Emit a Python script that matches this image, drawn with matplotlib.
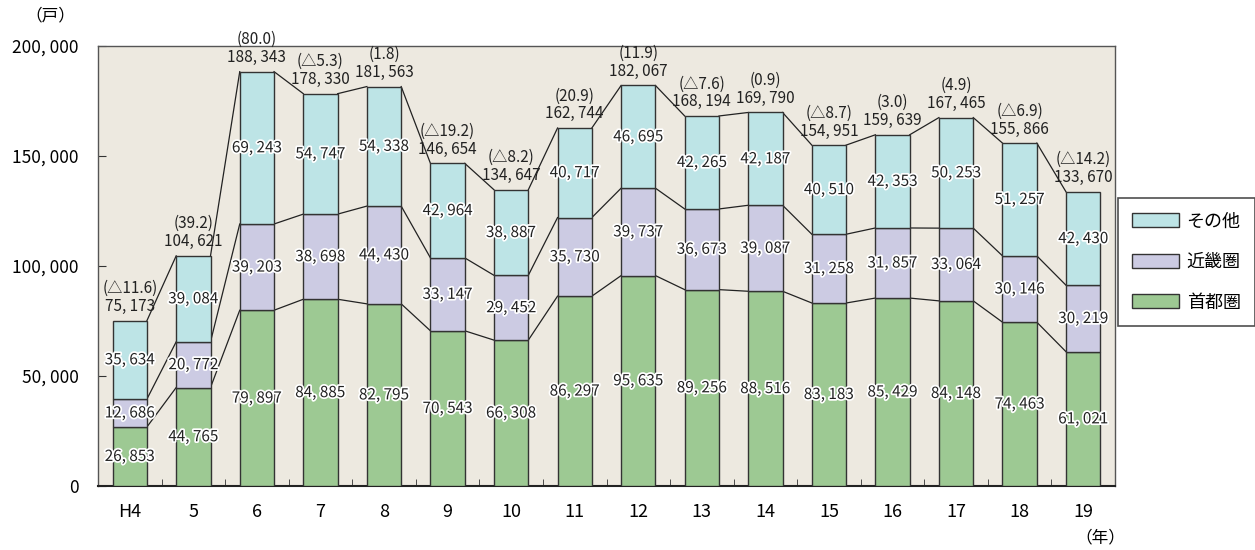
import matplotlib
matplotlib.use("Agg")
import matplotlib.pyplot as plt
import matplotlib.patheffects as pe
from matplotlib.patches import Patch
import numpy as np

plt.rcParams['font.family'] = ['Noto Sans CJK JP', 'DejaVu Sans']

years = ["H4", "5", "6", "7", "8", "9", "10", "11", "12", "13", "14", "15", "16", "17", "18", "19"]
shutoken = [26853, 44765, 79897, 84885, 82795, 70543, 66308, 86297, 95635, 89256, 88516, 83183, 85429, 84148, 74463, 61021]
kinki = [12686, 20772, 39203, 38698, 44430, 33147, 29452, 35730, 39737, 36673, 39087, 31258, 31857, 33064, 30146, 30219]
sonota = [35634, 39084, 69243, 54747, 54338, 42964, 38887, 40717, 46695, 42265, 42187, 40510, 42353, 50253, 51257, 42430]
totals = [75173, 104621, 188343, 178330, 181563, 146654, 134647, 162744, 182067, 168194, 169790, 154951, 159639, 167465, 155866, 133670]
changes = ["△11.6", "39.2", "80.0", "△5.3", "1.8", "△19.2", "△8.2", "20.9", "11.9", "△7.6", "0.9", "△8.7", "3.0", "4.9", "△6.9", "△14.2"]

series = [("首都圏", shutoken, "#9dc993"), ("近畿圏", kinki, "#cccbe3"), ("その他", sonota, "#bde4e6")]

def fmt(v):
    return f"{v:,}".replace(",", ", ")

fig = plt.figure(figsize=(12.55, 5.5), dpi=100)
ax = fig.add_axes([98 / 1255, 64 / 550, (1115 - 98) / 1255, (486 - 46) / 550])
ax.set_facecolor("#ede9e0")

x = np.arange(len(years))
w = 0.54
bottom = np.zeros(len(years))
levels = []
for name, vals, col in series:
    vals = np.array(vals)
    ax.bar(x, vals, w, bottom=bottom, color=col, edgecolor="#333333", linewidth=1.0, zorder=3)
    for xi, b, v in zip(x, bottom, vals):
        t = ax.text(xi, b + v / 2, fmt(v), ha="center", va="center", fontsize=11, color="#222222", zorder=5)
        t.set_path_effects([pe.withStroke(linewidth=2.5, foreground="white")])
    bottom = bottom + vals
    levels.append(bottom.copy())

# connecting lines between neighbouring bars at each stack level
for lv in levels:
    for i in range(len(years) - 1):
        ax.plot([x[i] + w / 2, x[i + 1] - w / 2], [lv[i], lv[i + 1]], color="#222222", lw=0.9, zorder=2)

for xi, tot, ch in zip(x, totals, changes):
    ax.annotate(fmt(tot), (xi, tot), xytext=(0, 4), textcoords="offset points",
                ha="center", va="bottom", fontsize=11, color="#222222", zorder=5)
    ax.annotate(f"({ch})", (xi, tot), xytext=(0, 17), textcoords="offset points",
                ha="center", va="bottom", fontsize=11, color="#222222", zorder=5)

ax.set_xlim(-0.5, len(years) - 0.5)
ax.set_ylim(0, 200000)
ax.set_yticks(np.arange(0, 200001, 50000))
ax.set_yticklabels([fmt(v) for v in range(0, 200001, 50000)], fontsize=12.5)
ax.set_xticks(x)
ax.set_xticklabels(years, fontsize=13)
ax.tick_params(axis="x", length=0, pad=12)
ax.set_xticks(x[:-1] + 0.5, minor=True)
ax.tick_params(axis="x", which="minor", direction="in", length=5, color="#333333")
ax.tick_params(axis="y", direction="in", length=6, pad=14, color="#333333")
for s in ax.spines.values():
    s.set_color("#555555")
    s.set_linewidth(1.0)
ax.spines["bottom"].set_color("#222222")
ax.spines["bottom"].set_linewidth(1.5)

fig.text(50 / 1255, 1 - 16 / 550, "（戸）", ha="center", va="center", fontsize=12)
fig.text(1100 / 1255, 1 - 538 / 550, "（年）", ha="center", va="center", fontsize=12)

handles = [Patch(facecolor=c, edgecolor="#333333", label=n) for n, _, c in series[::-1]]
leg = fig.legend(handles=handles, loc="upper left", bbox_to_anchor=(1118 / 1255, 1 - 198 / 550),
                 fontsize=13, frameon=True, fancybox=False, handlelength=2.6, handleheight=0.8,
                 labelspacing=1.25, borderpad=0.8, handletextpad=0.4, borderaxespad=0)
leg.get_frame().set_edgecolor("#222222")
leg.get_frame().set_linewidth(1.2)

fig.savefig("out.png", dpi=100)
